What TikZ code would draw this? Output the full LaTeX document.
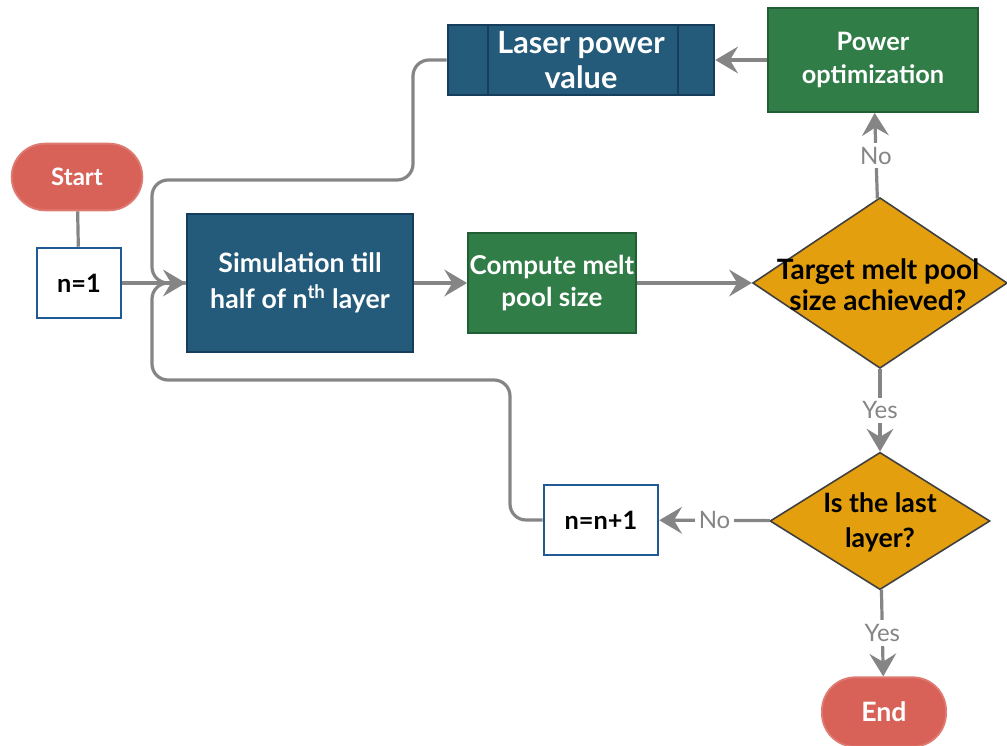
\documentclass[tikz,border=0pt]{standalone}
\usepackage{fontspec}
\setmainfont{Lato}
\usetikzlibrary{arrows.meta,shapes.geometric}

\definecolor{termred}{HTML}{D86258}
\definecolor{navy}{HTML}{245A7A}
\definecolor{navyedge}{HTML}{163E5C}
\definecolor{leaf}{HTML}{317D48}
\definecolor{leafedge}{HTML}{215E34}
\definecolor{amber}{HTML}{E49F0E}
\definecolor{boxblue}{HTML}{1F5A96}
\definecolor{wire}{HTML}{858585}

\tikzset{
    box/.style={draw, line width=1.4pt, align=center, inner sep=0pt, font=\bfseries\fontsize{20}{27}\selectfont},
    term/.style={box, fill=termred, draw=termred!85!white, text=white, rounded corners=25pt},
    proc/.style={box, fill=navy, draw=navyedge, text=white},
    calc/.style={box, fill=leaf, draw=leafedge, text=white},
    init/.style={box, fill=white, draw=boxblue, text=black, font=\bfseries\fontsize{19}{22}\selectfont},
    ask/.style={diamond, draw=black!75, line width=1.2pt, fill=amber, inner sep=0pt},
    asktext/.style={align=center, font=\bfseries\fontsize{20}{24}\selectfont},
    flow/.style={draw=wire, line width=2.4pt, -{Stealth[length=17pt,width=20pt,inset=6pt]}},
    line/.style={draw=wire, line width=2.4pt},
    tag/.style={fill=white, text=wire, inner sep=3pt, font=\fontsize{18}{20}\selectfont}
}

\begin{document}
\begin{tikzpicture}[x=0.75pt, y=-0.75pt]
    \useasboundingbox (0,0) rectangle (1007,746);

    % left column
    \node[term, minimum width=98pt, minimum height=50pt, font=\bfseries\fontsize{18}{20}\selectfont] (start) at (77,177) {Start};
    \node[init, minimum width=63pt, minimum height=53pt] (n1) at (79,283) {n=1};

    % main row
    \node[proc, minimum width=170pt, minimum height=104pt] (sim) at (300,283) {Simulation till\\half of n\textsuperscript{th} layer};
    \node[calc, minimum width=126pt, minimum height=75pt, font=\bfseries\fontsize{19.5}{24}\selectfont] (melt) at (552,283) {Compute melt\\pool size};
    \node[ask, minimum width=191pt, minimum height=128pt] (target) at (880,283) {};
    \node[asktext, font=\bfseries\fontsize{21}{23}\selectfont] (targettext) at (878,285) {Target  melt pool\\size achieved?};

    % top row
    \node[calc, minimum width=158pt, minimum height=78pt, font=\bfseries\fontsize{19}{25}\selectfont] (popt) at (873,60) {Power\\optimization};
    \node[proc, minimum width=200pt, minimum height=53pt, font=\bfseries\fontsize{23}{26}\selectfont] (laser) at (581,60) {Laser power\\value};
    \draw[navyedge, line width=1.4pt] ([xshift=31pt]laser.north west) -- ([xshift=31pt]laser.south west);
    \draw[navyedge, line width=1.4pt] ([xshift=-28pt]laser.north east) -- ([xshift=-28pt]laser.south east);

    % bottom
    \node[ask, minimum width=165pt, minimum height=103pt] (last) at (880,521) {};
    \node[asktext, font=\bfseries\fontsize{20}{26}\selectfont] (lasttext) at (880,522) {Is the last\\layer?};
    \node[init, minimum width=86pt, minimum height=52pt] (nn1) at (601,520) {n=n+1};
    \node[term, minimum width=93pt, minimum height=52pt] (end) at (884,712) {End};

    % loop corners
    \coordinate (rise) at (413,180);
    \coordinate (drop) at (510,380);
    \coordinate (merge) at (152,283);

    \draw[line, rounded corners=12pt] (laser.west) -| (rise) -| (merge) -- (sim.west);
    \draw[line, rounded corners=12pt] (nn1.west) -| (drop) -| (merge) -- (sim.west);

    \draw[line] (start) -- (n1);
    \draw[flow] (n1) -- (sim);
    \draw[flow] (sim) -- (melt);
    \draw[flow] (melt) -- (target);
    \draw[flow] (target) -- node[tag] {No} (popt);
    \draw[flow] (popt) -- (laser);
    \draw[flow] (target) -- node[tag] {Yes} (last);
    \draw[flow] (last) -- node[tag] {No} (nn1);
    \draw[flow] (last) -- node[tag] {Yes} (end);
\end{tikzpicture}
\end{document}
